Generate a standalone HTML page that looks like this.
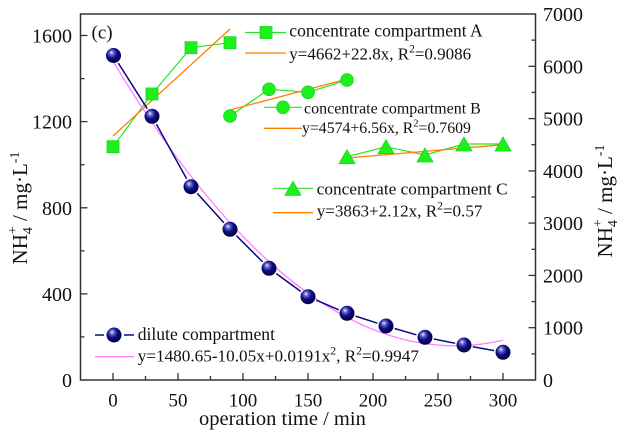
<!DOCTYPE html>
<html>
<head>
<meta charset="utf-8">
<style>
html,body{margin:0;padding:0;background:#fff;}
svg{display:block;}
svg text{font-family:"Liberation Serif","Times New Roman",serif;fill:#111;}
</style>
</head>
<body>
<svg width="620" height="433" viewBox="0 0 620 433" xmlns="http://www.w3.org/2000/svg" font-family="Liberation Serif, Times New Roman, serif">
<defs>
<radialGradient id="ball" cx="0.42" cy="0.38" r="0.62" fx="0.36" fy="0.3">
<stop offset="0" stop-color="#f2f2ff"/>
<stop offset="0.22" stop-color="#6a6ac8"/>
<stop offset="0.55" stop-color="#0c0c88"/>
<stop offset="1" stop-color="#00003a"/>
</radialGradient>
</defs>

<!-- frame -->
<rect x="80.5" y="14" width="455" height="366" fill="none" stroke="#333" stroke-width="1.5"/>

<!-- x ticks -->
<g stroke="#333" stroke-width="1.3">
<line x1="113" y1="380" x2="113" y2="373"/>
<line x1="178" y1="380" x2="178" y2="373"/>
<line x1="243" y1="380" x2="243" y2="373"/>
<line x1="308" y1="380" x2="308" y2="373"/>
<line x1="373" y1="380" x2="373" y2="373"/>
<line x1="438" y1="380" x2="438" y2="373"/>
<line x1="503" y1="380" x2="503" y2="373"/>
<line x1="145.5" y1="380" x2="145.5" y2="376"/>
<line x1="210.5" y1="380" x2="210.5" y2="376"/>
<line x1="275.5" y1="380" x2="275.5" y2="376"/>
<line x1="340.5" y1="380" x2="340.5" y2="376"/>
<line x1="405.5" y1="380" x2="405.5" y2="376"/>
<line x1="470.5" y1="380" x2="470.5" y2="376"/>
<!-- left y ticks -->
<line x1="80.5" y1="293.9" x2="87.5" y2="293.9"/>
<line x1="80.5" y1="207.8" x2="87.5" y2="207.8"/>
<line x1="80.5" y1="121.6" x2="87.5" y2="121.6"/>
<line x1="80.5" y1="35.5" x2="87.5" y2="35.5"/>
<line x1="80.5" y1="336.9" x2="84.5" y2="336.9"/>
<line x1="80.5" y1="250.8" x2="84.5" y2="250.8"/>
<line x1="80.5" y1="164.7" x2="84.5" y2="164.7"/>
<line x1="80.5" y1="78.6" x2="84.5" y2="78.6"/>
<!-- right y ticks -->
<line x1="535.5" y1="327.7" x2="528.5" y2="327.7"/>
<line x1="535.5" y1="275.4" x2="528.5" y2="275.4"/>
<line x1="535.5" y1="223.1" x2="528.5" y2="223.1"/>
<line x1="535.5" y1="170.9" x2="528.5" y2="170.9"/>
<line x1="535.5" y1="118.6" x2="528.5" y2="118.6"/>
<line x1="535.5" y1="66.3" x2="528.5" y2="66.3"/>
<line x1="535.5" y1="353.9" x2="531.5" y2="353.9"/>
<line x1="535.5" y1="301.6" x2="531.5" y2="301.6"/>
<line x1="535.5" y1="249.3" x2="531.5" y2="249.3"/>
<line x1="535.5" y1="197.0" x2="531.5" y2="197.0"/>
<line x1="535.5" y1="144.7" x2="531.5" y2="144.7"/>
<line x1="535.5" y1="92.4" x2="531.5" y2="92.4"/>
<line x1="535.5" y1="40.1" x2="531.5" y2="40.1"/>
</g>

<!-- x tick labels -->
<g font-size="19" text-anchor="middle" font-family="Liberation Serif, serif">
<text x="113" y="406.5">0</text>
<text x="178" y="406.5">50</text>
<text x="243" y="406.5">100</text>
<text x="308" y="406.5">150</text>
<text x="373" y="406.5">200</text>
<text x="438" y="406.5">250</text>
<text x="503" y="406.5">300</text>
</g>
<!-- left tick labels -->
<g font-size="20" text-anchor="end" font-family="Liberation Serif, serif">
<text x="72" y="387">0</text>
<text x="72" y="300.9">400</text>
<text x="72" y="214.8">800</text>
<text x="72" y="128.6">1200</text>
<text x="72" y="42.5">1600</text>
</g>
<!-- right tick labels -->
<g font-size="20" text-anchor="start" font-family="Liberation Serif, serif">
<text x="543" y="387">0</text>
<text x="543" y="334.7">1000</text>
<text x="543" y="282.4">2000</text>
<text x="543" y="230.1">3000</text>
<text x="543" y="177.9">4000</text>
<text x="543" y="125.6">5000</text>
<text x="543" y="73.3">6000</text>
<text x="543" y="21">7000</text>
</g>

<!-- axis titles -->
<text x="199" y="425" font-size="20.5">operation time / min</text>
<text transform="translate(27,208) rotate(-90)" font-size="21" text-anchor="middle">NH<tspan font-size="14" dy="5">4</tspan><tspan font-size="14" dx="-7" dy="-15">+</tspan><tspan dy="10"> / mg·L</tspan><tspan font-size="14" dy="-8">-1</tspan></text>
<text transform="translate(612,201) rotate(-90)" font-size="21" text-anchor="middle">NH<tspan font-size="14" dy="5">4</tspan><tspan font-size="14" dx="-7" dy="-15">+</tspan><tspan dy="10"> / mg·L</tspan><tspan font-size="14" dy="-8">-1</tspan></text>

<!-- panel label -->
<text x="91.5" y="38.3" font-size="19">(c)</text>

<!-- ===== series ===== -->
<!-- green connecting lines -->
<g stroke="#22e822" stroke-width="1.2" fill="none">
<polyline points="113,146.7 152,94 191,47.7 230,42.7"/>
<polyline points="230,116 269,89.3 308,92.3 347,80"/>
<polyline points="347,156.7 386,146.7 425,155 464,144 503,144"/>
</g>
<!-- orange fits -->
<g stroke="#ff8000" stroke-width="1.3" fill="none">
<line x1="113" y1="136" x2="230" y2="29"/>
<line x1="230" y1="110" x2="347" y2="79"/>
<line x1="347" y1="158" x2="503" y2="144.7"/>
</g>
<!-- pink fit -->
<polyline fill="none" stroke="#ff80ff" stroke-width="1.3" points="113,61.23 126,82.45 139,102.86 152,122.44 165,141.2 178,159.13 191,176.25 204,192.54 217,208.01 230,222.65 243,236.48 256,249.48 269,261.66 282,273.01 295,283.55 308,293.26 321,302.15 334,310.22 347,317.46 360,323.88 373,329.48 386,334.26 399,338.21 412,341.35 425,343.66 438,345.14 451,345.81 464,345.65 477,344.67 490,342.87 503,340.25"/>
<!-- navy line with gaps -->
<g stroke="#0a0a80" stroke-width="1.5">
<line x1="118.3" y1="63.1" x2="147.2" y2="108.7"/>
<line x1="156.4" y1="124.2" x2="186.6" y2="178.8"/>
<line x1="197.1" y1="193.3" x2="223.9" y2="222.7"/>
<line x1="236.4" y1="235.7" x2="262.6" y2="261.9"/>
<line x1="276.3" y1="273.6" x2="300.7" y2="291.4"/>
<line x1="316.3" y1="300.2" x2="338.7" y2="309.8"/>
<line x1="355.6" y1="316.1" x2="377.4" y2="323.2"/>
<line x1="394.6" y1="328.5" x2="416.4" y2="334.8"/>
<line x1="433.8" y1="339.0" x2="455.2" y2="343.3"/>
<line x1="472.8" y1="346.7" x2="494.2" y2="350.6"/>
</g>

<!-- green markers -->
<g fill="#1ef01e" stroke="#18d818" stroke-width="0.8">
<rect x="107" y="140.7" width="12" height="12"/>
<rect x="146" y="88" width="12" height="12"/>
<rect x="185" y="41.7" width="12" height="12"/>
<rect x="224" y="36.7" width="12" height="12"/>
<circle cx="230" cy="116" r="6.4"/>
<circle cx="269" cy="89.3" r="6.4"/>
<circle cx="308" cy="92.3" r="6.4"/>
<circle cx="347" cy="80" r="6.4"/>
<polygon points="347,149.7 339,163.7 355,163.7"/>
<polygon points="386,139.7 378,153.7 394,153.7"/>
<polygon points="425,148 417,162 433,162"/>
<polygon points="464,137 456,151 472,151"/>
<polygon points="503,137 495,151 511,151"/>
</g>

<!-- navy spheres -->
<g fill="url(#ball)">
<circle cx="113.5" cy="55.5" r="7.5"/>
<circle cx="152" cy="116.3" r="7.5"/>
<circle cx="191" cy="186.7" r="7.5"/>
<circle cx="230" cy="229.3" r="7.5"/>
<circle cx="269" cy="268.3" r="7.5"/>
<circle cx="308" cy="296.7" r="7.5"/>
<circle cx="347" cy="313.3" r="7.5"/>
<circle cx="386" cy="326" r="7.5"/>
<circle cx="425" cy="337.3" r="7.5"/>
<circle cx="464" cy="345" r="7.5"/>
<circle cx="503" cy="352.3" r="7.5"/>
</g>

<!-- ===== legends ===== -->
<!-- A -->
<line x1="245" y1="32.5" x2="286" y2="32.5" stroke="#22e822" stroke-width="1.2"/>
<rect x="260" y="26.5" width="12" height="12" fill="#1ef01e" stroke="#18d818" stroke-width="0.8"/>
<line x1="245" y1="53" x2="286" y2="53" stroke="#ff8000" stroke-width="1.3"/>
<text x="289.3" y="36.7" font-size="17.5">concentrate compartment A</text>
<text x="289.3" y="59.3" font-size="17">y=4662+22.8x, R<tspan font-size="11.5" dy="-7">2</tspan><tspan dy="7">=0.9086</tspan></text>

<!-- B -->
<line x1="264" y1="107.3" x2="302" y2="107.3" stroke="#22e822" stroke-width="1.2"/>
<circle cx="283" cy="107.3" r="6.4" fill="#1ef01e" stroke="#18d818" stroke-width="0.8"/>
<line x1="264" y1="128.3" x2="302" y2="128.3" stroke="#ff8000" stroke-width="1.3"/>
<text x="304" y="113.3" font-size="16">concentrate compartment B</text>
<text x="302" y="133" font-size="15.8">y=4574+6.56x, R<tspan font-size="10.5" dy="-6.5">2</tspan><tspan dy="6.5">=0.7609</tspan></text>

<!-- C -->
<line x1="273" y1="188.3" x2="313" y2="188.3" stroke="#22e822" stroke-width="1.2"/>
<polygon points="293,181.3 285,195.3 301,195.3" fill="#1ef01e" stroke="#18d818" stroke-width="0.8"/>
<line x1="273" y1="212.7" x2="313" y2="212.7" stroke="#ff8000" stroke-width="1.3"/>
<text x="316.7" y="194.5" font-size="17.3">concentrate compartment C</text>
<text x="316.7" y="216.5" font-size="17.1">y=3863+2.12x, R<tspan font-size="11.5" dy="-7">2</tspan><tspan dy="7">=0.57</tspan></text>

<!-- dilute -->
<line x1="95" y1="335" x2="104" y2="335" stroke="#0a0a80" stroke-width="1.5"/>
<line x1="124" y1="335" x2="134" y2="335" stroke="#0a0a80" stroke-width="1.5"/>
<circle cx="114" cy="335" r="7.5" fill="url(#ball)"/>
<line x1="95" y1="356.7" x2="134" y2="356.7" stroke="#ff80ff" stroke-width="1.3"/>
<text x="137.7" y="340" font-size="17.6">dilute compartment</text>
<text x="137.7" y="361.5" font-size="17.2">y=1480.65-10.05x+0.0191x<tspan font-size="11.5" dy="-7">2</tspan><tspan dy="7">, R</tspan><tspan font-size="11.5" dy="-7">2</tspan><tspan dy="7">=0.9947</tspan></text>
</svg>
</body>
</html>
